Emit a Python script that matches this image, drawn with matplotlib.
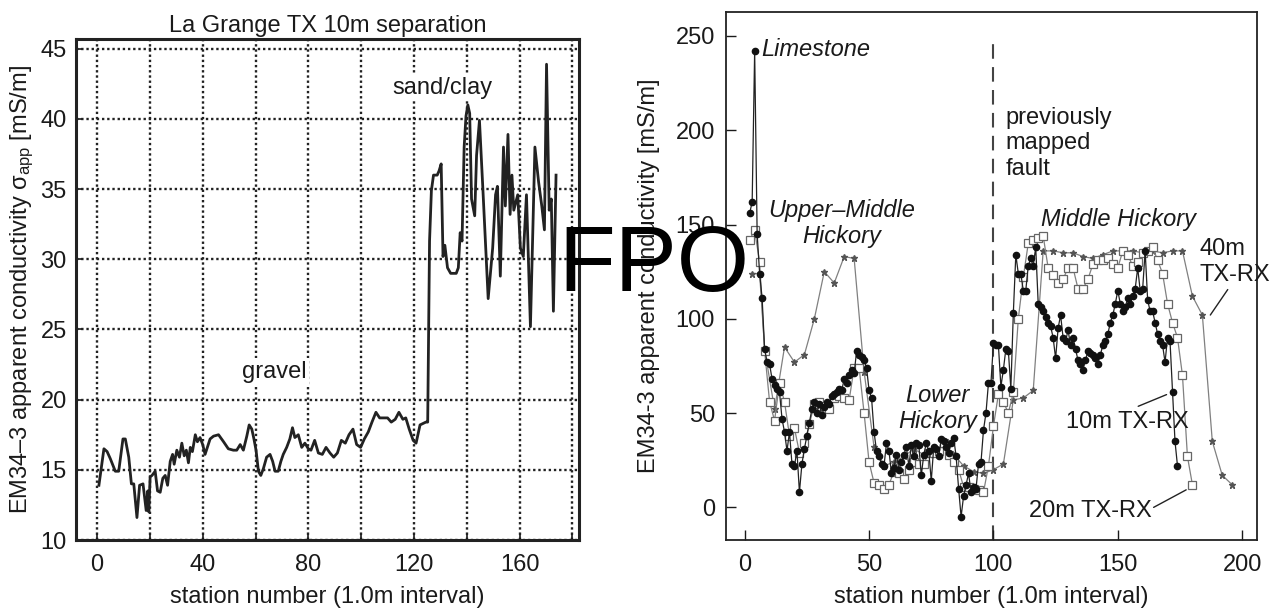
import numpy as np
import matplotlib
matplotlib.use("Agg")
import matplotlib.pyplot as plt

plt.rcParams['font.family'] = ['Liberation Sans', 'DejaVu Sans']
plt.rcParams['mathtext.fontset'] = 'custom'
plt.rcParams['mathtext.rm'] = 'Liberation Sans'
plt.rcParams['mathtext.it'] = 'Liberation Sans:italic'

# ---------------- Left panel data (La Grange TX, 10m separation) ----------------
left_station = [0.7, 2.6, 3.8, 5, 6.9, 8.2, 9.8, 10.7, 12, 13, 13.9, 15.1, 16.1, 17.4, 18.6, 19.2, 19.6,
                20.1, 20.8, 22, 22.9, 23.9, 24.9, 25.8, 26.7, 27.7, 28.6, 29.2, 30.2, 31.2, 32.1, 33, 33.8,
                34.6, 35.3, 36.1, 37.2, 38, 39, 40, 40.9, 42.8, 44.1, 46, 47.9, 49.7, 51.6, 52.9, 54.2,
                55.4, 56.7, 57.6, 58.6, 59.4, 60.2, 61.1, 62, 63, 64.2, 65.5, 66.5, 67.4, 68.6, 69.6, 70.5,
                71.8, 73, 74, 74.9, 76.2, 77.5, 78.7, 80, 81, 82.4, 83.8, 85.3, 86.7, 88.2, 89.6, 91, 92.5,
                94, 95.4, 96.9, 98.3, 99.8, 101.2, 102.7, 104.1, 105.6, 107, 108.5, 110, 111.4, 112.9,
                114.3, 115.8, 116.9, 118.2, 119.7, 120.8, 121.6, 122.3, 124.5, 125.2, 125.9, 126.6, 127.4,
                128.8, 129.5, 130.3, 131, 131.7, 132.7, 133.9, 136, 136.8, 137.5, 138.2, 139, 139.7, 140.4,
                141.1, 141.8, 143, 143.7, 144.8, 146.2, 148.1, 149.8, 150.9, 151.6, 152.7, 153.9, 154.6,
                155.6, 156.4, 157.1, 157.8, 159.3, 160.3, 161.4, 162.6, 164.1, 165.8, 167.2, 168.4, 169.4,
                170.2, 171.2, 172, 172.8, 173.8]
left_sigma = [13.9, 16.5, 16.3, 15.8, 14.9, 14.9, 17.2, 17.2, 15.9, 14.0, 14.0, 11.6, 13.9, 14.0, 12.1, 13.5,
              12.0, 14.5, 14.6, 14.9, 13.5, 13.4, 14.4, 14.6, 13.9, 15.6, 16.1, 15.4, 16.4, 15.9, 16.9, 16.0,
              16.4, 15.5, 16.6, 16.3, 17.5, 17.0, 17.3, 16.8, 16.1, 17.2, 17.4, 17.5, 17.0, 16.5, 16.4, 16.4,
              16.8, 16.4, 17.4, 18.2, 17.9, 17.2, 16.4, 14.9, 14.6, 15.1, 15.9, 16.1, 15.6, 14.9, 14.9, 15.6,
              16.1, 16.6, 17.2, 18.0, 17.3, 17.5, 16.6, 16.9, 16.5, 16.4, 17.1, 16.2, 16.1, 16.6, 16.2, 15.9,
              16.2, 17.1, 16.9, 17.5, 17.9, 16.8, 16.6, 17.2, 17.7, 18.4, 19.1, 18.7, 18.7, 18.7, 18.4, 18.6,
              19.1, 18.6, 18.7, 17.9, 17.1, 16.9, 17.6, 18.2, 18.4, 18.4, 31.3, 34.9, 36.0, 36.0, 36.3, 36.8,
              30.2, 31.0, 29.4, 29.0, 29.0, 29.4, 31.9, 31.3, 38.0, 40.2, 41.0, 40.4, 34.3, 33.1, 37.4, 39.9,
              34.6, 27.2, 30.8, 34.6, 35.2, 28.8, 38.0, 33.8, 38.9, 33.2, 36.0, 33.5, 34.6, 30.8, 30.2, 34.6,
              25.2, 38.0, 35.5, 33.8, 32.1, 43.9, 33.5, 34.3, 26.3, 36.0]
left_xticks = [0, 40, 80, 120, 160]
left_xgrid = [20, 60, 100, 140, 180]
left_yticks = [10, 15, 20, 25, 30, 35, 40, 45]

# ---------------- Right panel data (three TX-RX separations) ----------------
s10 = np.arange(2, 175, 1)
v10 = [156, 162, 242, 145, 124, 111, 84, 77, 76, 68,
       65, 63, 61, 47, 40, 30, 40, 23, 22, 30,
       8, 23, 31, 38, 45, 52, 56, 50, 55, 49,
       53, 56, 55, 59, 60, 61, 63, 62, 68, 66,
       70, 73, 71, 83, 81, 80, 78, 74, 62, 58,
       40, 30, 27, 23, 22, 34, 30, 18, 21, 28,
       20, 24, 28, 32, 22, 33, 27, 34, 33, 17,
       28, 34, 30, 14, 32, 31, 27, 36, 35, 32,
       29, 34, 37, 27, 10, -5, 6, 12, 18, 8,
       11, 10, 23, 24, 41, 50, 66, 66, 87, 86,
       86, 64, 73, 84, 83, 63, 103, 134, 124, 124,
       115, 115, 128, 132, 128, 138, 108, 106, 104, 101,
       98, 96, 90, 79, 95, 102, 90, 88, 94, 86,
       90, 84, 78, 76, 73, 78, 83, 82, 81, 79,
       76, 81, 86, 88, 92, 98, 102, 108, 115, 108,
       104, 106, 111, 108, 112, 116, 127, 115, 116, 136,
       110, 104, 104, 98, 92, 88, 86, 77, 90, 88,
       61, 35, 22]

s20 = np.arange(2, 181, 2)
v20 = [142, 147, 130, 83, 56, 46, 66, 56, 38, 42,
       29, 34, 44, 55, 56, 54, 52, 58, 59, 58,
       57, 74, 74, 50, 24, 13, 12, 10, 12, 19,
       18, 15, 20, 24, 23, 23, 29, 29, 30, 34,
       28, 24, 20, 11, 11, 10, 9, 8, 22, 43,
       60, 56, 50, 61, 100, 122, 140, 142, 143, 144,
       127, 123, 119, 121, 127, 127, 116, 116, 121, 129,
       131, 131, 132, 129, 127, 136, 134, 128, 130, 135,
       136, 138, 131, 124, 108, 98, 90, 70, 27, 12]

s40 = [3, 6, 8, 12, 16, 20, 24, 28, 32, 36, 40, 44, 48, 52, 56, 60, 64, 68, 72, 76, 80, 84, 88, 92, 96,
       100, 104, 108, 112, 116, 120, 124, 128, 132, 136, 140, 144, 148, 152, 156, 160, 164, 168, 172,
       176, 180, 184, 188, 192, 196]
v40 = [124, 124, 84, 52, 85, 77, 81, 100, 125, 119, 133, 132, 72, 32, 22, 24, 27, 31, 28, 30, 33, 28, 22,
       19, 18, 20, 23, 57, 58, 62, 136, 136, 135, 135, 133, 132, 134, 136, 136, 136, 135, 136, 135, 136,
       136, 112, 102, 35, 17, 12]
right_xticks = [0, 50, 100, 150, 200]
right_yticks = [0, 50, 100, 150, 200, 250]
fault_station = 100

FS = 17
TXT = '#1a1a1a'

fig = plt.figure(figsize=(12.83, 6.11), dpi=100)

# ---------------- Left axes ----------------
axL = fig.add_axes([0.0596, 0.1162, 0.3917, 0.8200])
axL.plot(left_station, left_sigma, color='#222222', lw=2.0, zorder=3)
axL.set_xlim(-7.8, 182.5)
axL.set_ylim(10, 45.7)
axL.set_xticks(left_xticks)
axL.set_xticks(left_xgrid, minor=True)
axL.set_yticks(left_yticks)
axL.grid(True, which='both', color='#222222', linestyle=(0, (1, 1.2)), linewidth=1.7)
for sp in axL.spines.values():
    sp.set_linewidth(2.2)
    sp.set_color('#222222')
axL.tick_params(which='both', direction='in', length=4, width=1.2, labelsize=FS, colors=TXT)
axL.tick_params(axis='x', which='both', pad=10)
axL.tick_params(axis='y', which='both', pad=7)
axL.tick_params(which='minor', labelbottom=False)
axL.set_title('La Grange TX 10m separation', fontsize=FS, color=TXT, pad=5)
axL.set_xlabel('station number (1.0m interval)', fontsize=FS, color=TXT, labelpad=7)
axL.set_ylabel('EM34\u20133 apparent conductivity \u03c3$_\\mathregular{app}$ [mS/m]', fontsize=FS,
               color=TXT, labelpad=3)
box = dict(fc='white', ec='none', pad=1.5)
axL.text(67.2, 22.0, 'gravel', ha='center', va='center', fontsize=FS, color=TXT, bbox=box, zorder=4)
axL.text(130.7, 42.2, 'sand/clay', ha='center', va='center', fontsize=FS, color=TXT, bbox=box, zorder=4)

# ---------------- Right axes ----------------
axR = fig.add_axes([0.5659, 0.1162, 0.4139, 0.8642])
ylo, yhi = -17.3, 262.7
axR.set_xlim(-7.5, 206)
axR.set_ylim(ylo, yhi)
axR.axvline(fault_station, ymin=0, ymax=(247 - ylo) / (yhi - ylo), color='#444444', lw=1.5,
            dashes=(7, 4), zorder=1)
axR.plot(s40, v40, color='#808080', lw=0.9, marker='*', ms=5, mfc='#555555', mec='#555555', zorder=2)
axR.plot(s20, v20, color='#808080', lw=0.9, marker='s', ms=6, mfc='white', mec='#666666', mew=0.9,
         zorder=3)
axR.plot(s10, v10, color='#222222', lw=0.9, marker='o', ms=4.5, mfc='#111111', mec='#111111', zorder=4)
axR.set_xticks(right_xticks)
axR.set_yticks(right_yticks)
for sp in axR.spines.values():
    sp.set_linewidth(1.3)
    sp.set_color('#222222')
axR.tick_params(direction='in', length=7, width=1.0, labelsize=FS, colors=TXT)
axR.tick_params(axis='x', pad=10)
axR.tick_params(axis='y', pad=8)
axR.set_xlabel('station number (1.0m interval)', fontsize=FS, color=TXT, labelpad=7)
axR.set_ylabel('EM34-3 apparent conductivity [mS/m]', fontsize=FS, color=TXT, labelpad=11)

axR.text(6.8, 243, 'Limestone', ha='left', va='center', fontsize=FS, style='italic', color=TXT)
axR.text(39, 150.5, 'Upper\u2013Middle\nHickory', ha='center', va='center', fontsize=FS, style='italic',
         color=TXT)
axR.text(77.5, 52.5, 'Lower\nHickory', ha='center', va='center', fontsize=FS, style='italic', color=TXT)
axR.text(105, 193, 'previously\nmapped\nfault', ha='left', va='center', fontsize=FS, color=TXT)
axR.text(150.4, 152.6, 'Middle Hickory', ha='center', va='center', fontsize=FS, style='italic', color=TXT)
axR.text(182.8, 130.2, '40m\nTX-RX', ha='left', va='center', fontsize=FS, color=TXT)
axR.text(153.9, 45.4, '10m TX-RX', ha='center', va='center', fontsize=FS, color=TXT)
axR.text(139, -2, '20m TX-RX', ha='center', va='center', fontsize=FS, color=TXT)
lead = dict(arrowstyle='-', color='#222222', lw=1.0, shrinkA=0, shrinkB=0)
axR.annotate('', xy=(187.2, 102), xytext=(194.2, 115.5), arrowprops=lead)
axR.annotate('', xy=(169.6, 59.8), xytext=(158.2, 53.6), arrowprops=lead)
axR.annotate('', xy=(177.5, 9.3), xytext=(164.4, 0), arrowprops=lead)

# ---------------- FPO overlay ----------------
fig.text(0.5094, 0.5237, 'FPO', fontsize=67, ha='center', va='baseline', color='black', zorder=10)

fig.savefig('out.png', dpi=100)
